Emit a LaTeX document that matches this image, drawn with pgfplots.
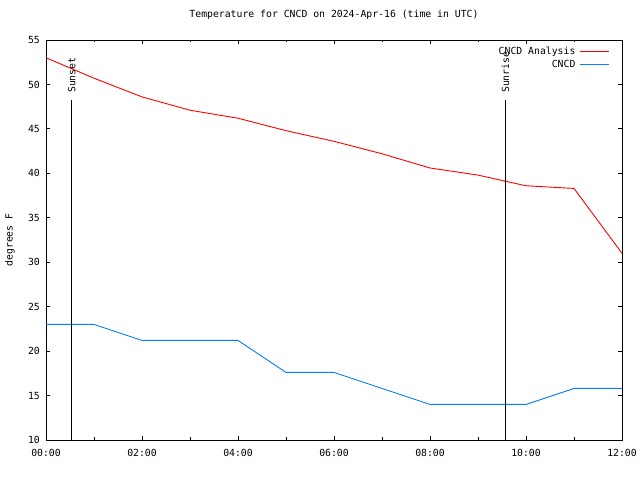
\documentclass[border=0pt]{standalone}
\usepackage{pgfplots}
\pgfplotsset{compat=1.18}
\usepackage{fontspec}
\setmainfont{DejaVu Sans Mono}
\definecolor{gpblue}{RGB}{0,128,255}
\definecolor{gpred}{RGB}{255,0,0}
\begin{document}
\fontsize{9.8bp}{11bp}\selectfont
\begin{tikzpicture}[x=1bp,y=1bp]
\path[use as bounding box] (0,0) rectangle (640,480);
\begin{axis}[
  at={(46bp,40bp)}, anchor=south west,
  scale only axis, width=576bp, height=400bp,
  xmin=0, xmax=12, ymin=10, ymax=55,
  xtick={0,2,4,6,8,10,12},
  xticklabels={00:00,02:00,04:00,06:00,08:00,10:00,12:00},
  minor xtick={1,3,5,7,9,11},
  ytick={10,15,...,55},
  tick align=inside,
  major tick length=4bp, minor tick length=2.5bp,
  every tick/.style={black, line width=0.9bp},
  axis line style={line width=0.9bp},
  /pgf/number format/assume math mode=true,
  tick label style={font=\fontsize{9.8bp}{11bp}\selectfont},
  xticklabel style={anchor=base, yshift=-17bp, inner sep=0pt},
  yticklabel style={anchor=east, inner sep=0pt, xshift=-6bp},
  title={Temperature for CNCD on 2024-Apr-16 (time in UTC)},
  title style={at={(0.5,1)}, anchor=base, yshift=17bp, inner sep=0pt, font=\fontsize{9.8bp}{11bp}\selectfont},
  legend plot pos=right,
  legend cell align=right,
  legend image code/.code={\draw[#1] (0bp,0bp) -- (29bp,0bp);},
  legend style={at={(rel axis cs:1,1)}, anchor=north east, xshift=-12bp, yshift=-5bp,
    draw=none, fill=none, inner sep=0pt, column sep=4bp,
    font=\fontsize{9.8bp}{11bp}\selectfont,
    nodes={text height=7.5bp, text depth=2.5bp, inner ysep=1.5bp, inner xsep=0.5bp}},
]
\addplot[gpred, line width=0.9bp] coordinates {
 (0,53.0) (1,50.7) (2,48.6) (3,47.1) (4,46.2) (5,44.8) (6,43.6) (7,42.2) (8,40.6) (9,39.8) (10,38.6) (11,38.3) (12,31.0)
};
\addlegendentry{CNCD Analysis}
\addplot[gpblue, line width=0.9bp] coordinates {
 (0,23.0) (1,23.0) (2,21.2) (3,21.2) (4,21.2) (5,17.6) (6,17.6) (7,15.8) (8,14.0) (9,14.0) (10,14.0) (11,15.8) (12,15.8)
};
\addlegendentry{CNCD}
\addplot[black, line width=0.9bp, forget plot] coordinates {(0.54,10) (0.54,48.3)};
\addplot[black, line width=0.9bp, forget plot] coordinates {(9.57,10) (9.57,48.3)};
\node[rotate=90, anchor=west, inner sep=0pt, xshift=6.5bp] at (axis cs:0.54,48.3) {Sunset};
\node[rotate=90, anchor=west, inner sep=0pt, xshift=6.5bp] at (axis cs:9.57,48.3) {Sunrise};
\end{axis}
\node[rotate=90, inner sep=0pt] at (10,240) {degrees F};
\end{tikzpicture}
\end{document}
